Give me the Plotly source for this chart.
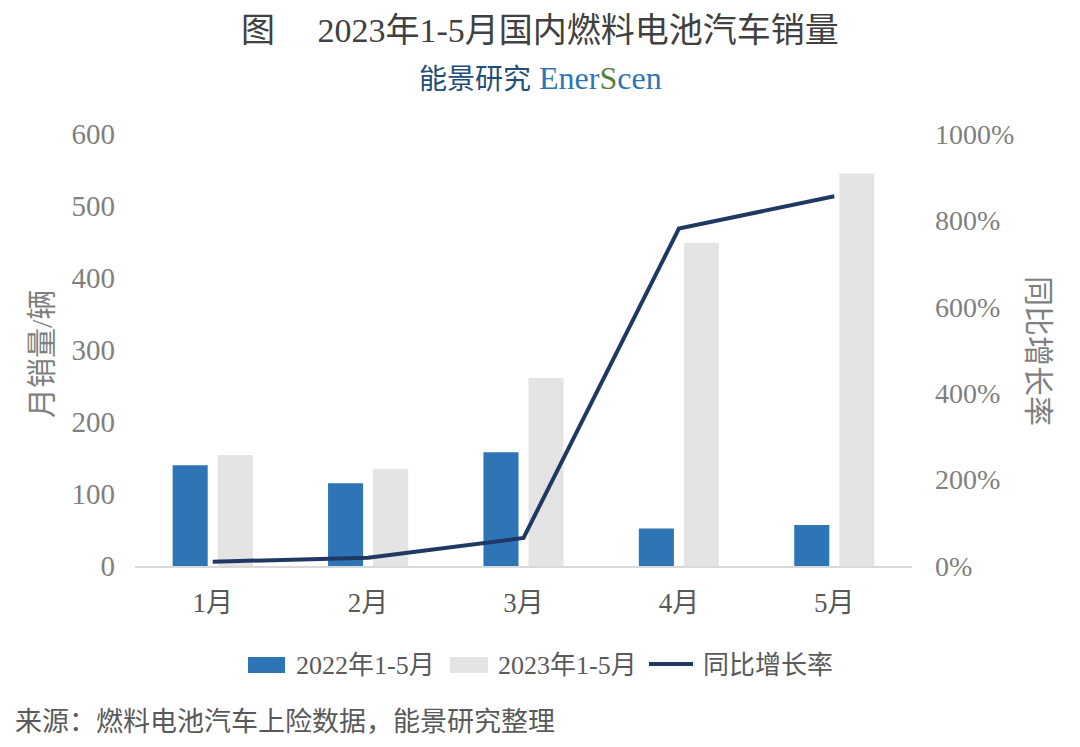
import plotly.graph_objects as go

months = ["1月", "2月", "3月", "4月", "5月"]
sales_2022 = [140, 115, 158, 52, 57]
sales_2023 = [154, 135, 261, 449, 545]
yoy_growth = [10, 19, 65, 781, 856]  # percent
left_ticks = [0, 100, 200, 300, 400, 500, 600]
right_ticks = [0, 200, 400, 600, 800, 1000]
right_tick_labels = [f"{v}%" for v in right_ticks]

names = ["2022年1-5月", "2023年1-5月", "同比增长率"]
colors = ["#2e75b6", "#e4e4e4", "#1f3864"]

FONT = "Liberation Serif, DejaVu Serif, Noto Sans CJK SC, serif"
GRAY = "#7f7f7f"

# plot area in pixels
L, R, T, B = 135, 168, 134, 181
W, H = 1080, 747
PW, PH = W - L - R, H - T - B
def px(x): return (x - L) / PW
def py(y): return (H - B - y) / PH

fig = go.Figure()
fig.add_trace(go.Bar(x=months, y=sales_2022, name=names[0],
                     marker=dict(color=colors[0], line=dict(width=0))))
fig.add_trace(go.Bar(x=months, y=sales_2023, name=names[1],
                     marker=dict(color=colors[1], line=dict(width=0))))
fig.add_trace(go.Scatter(x=months, y=yoy_growth, name=names[2], yaxis="y2",
                         mode="lines", line=dict(color=colors[2], width=4)))

fig.update_layout(
    width=W, height=H,
    margin=dict(l=L, r=R, t=T, b=B),
    paper_bgcolor="white", plot_bgcolor="white",
    barmode="group", bargap=0.42, bargroupgap=0.222,
    font=dict(family=FONT, color=GRAY, size=26),
    showlegend=False,
    xaxis=dict(showgrid=False, showline=True, linecolor="#d9d9d9", linewidth=2,
               ticks="", tickfont=dict(size=27, color="#595959"), ticklabelstandoff=12),
    yaxis=dict(range=[0, 600], tickvals=left_ticks,
               showgrid=False, zeroline=False, showline=False, ticks="",
               tickfont=dict(size=29, color=GRAY), ticklabelstandoff=19),
    yaxis2=dict(range=[0, 1000], tickvals=right_ticks, ticktext=right_tick_labels,
                overlaying="y", side="right", showgrid=False,
                zeroline=False, showline=False, ticks="",
                tickfont=dict(size=28, color=GRAY), ticklabelstandoff=22),
)

# custom legend
lg_y = 665
fig.add_shape(type="rect", xref="paper", yref="paper", x0=px(248), x1=px(285),
              y0=py(673), y1=py(657), fillcolor=colors[0], line=dict(width=0))
fig.add_annotation(text=names[0], xref="paper", yref="paper", x=px(294), y=py(lg_y),
                   xanchor="left", yanchor="middle", showarrow=False,
                   font=dict(size=26, color="#595959", family=FONT))
fig.add_shape(type="rect", xref="paper", yref="paper", x0=px(450), x1=px(488),
              y0=py(673), y1=py(657), fillcolor=colors[1], line=dict(width=0))
fig.add_annotation(text=names[1], xref="paper", yref="paper", x=px(496), y=py(lg_y),
                   xanchor="left", yanchor="middle", showarrow=False,
                   font=dict(size=26, color="#595959", family=FONT))
fig.add_shape(type="line", xref="paper", yref="paper", x0=px(649), x1=px(693),
              y0=py(664), y1=py(664), line=dict(color=colors[2], width=4))
fig.add_annotation(text=names[2], xref="paper", yref="paper", x=px(701), y=py(lg_y),
                   xanchor="left", yanchor="middle", showarrow=False,
                   font=dict(size=26, color="#595959", family=FONT))

fig.add_annotation(text="图　 2023年1-5月国内燃料电池汽车销量", xref="paper", yref="paper",
                   x=px(540), xanchor="center", y=py(30), yanchor="middle",
                   showarrow=False, font=dict(size=34, color="#404040", family=FONT))
fig.add_annotation(text="<span style='color:#1f4e79'>能景研究</span>"
                        "<span style='color:#2e75b6;font-size:32px'> Ener</span>"
                        "<span style='color:#548235;font-size:32px'>S</span>"
                        "<span style='color:#2e75b6;font-size:32px'>cen</span>",
                   xref="paper", yref="paper", x=px(540), xanchor="center",
                   y=py(78), yanchor="middle",
                   showarrow=False, font=dict(size=28, family=FONT))
fig.add_annotation(text="月销量/辆", xref="paper", yref="paper", x=px(41),
                   y=py(354), xanchor="center", yanchor="middle", textangle=-90,
                   showarrow=False, font=dict(size=30, color=GRAY, family=FONT))
fig.add_annotation(text="同比增长率", xref="paper", yref="paper", x=px(1039),
                   y=py(351), xanchor="center", yanchor="middle", textangle=90,
                   showarrow=False, font=dict(size=30, color=GRAY, family=FONT))
fig.add_annotation(text="来源：燃料电池汽车上险数据，能景研究整理", xref="paper", yref="paper",
                   x=px(13), xanchor="left", y=py(722), yanchor="middle",
                   showarrow=False, font=dict(size=27, color="#595959", family=FONT))

fig.write_html("out.html")
